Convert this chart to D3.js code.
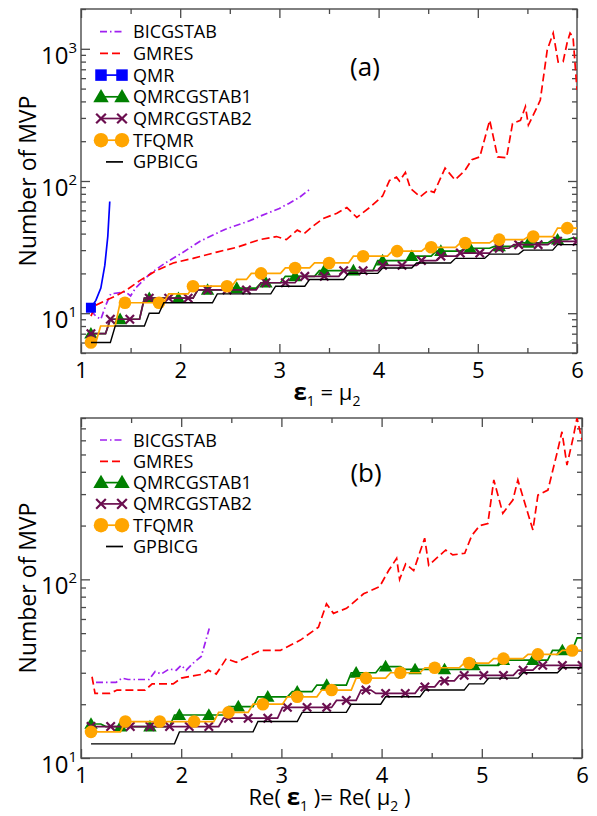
<!DOCTYPE html>
<html>
<head>
<meta charset="utf-8">
<script src="https://cdn.jsdelivr.net/npm/d3@7"></script>
<style>
    body { margin: 0; background: #fff; }
    svg { font-family: "Open Sans", sans-serif; }
</style>
</head>
<body>
<script>
// Sampling of the stepped solvers (same x grid in both panels)
var gridStart = 1.1;
var gridStep = 0.049;
var gridCount = 101;

// Axis ticks
var xTicks = [1, 2, 3, 4, 5, 6];
var xMinorTicks = [1.5, 2.5, 3.5, 4.5, 5.5];
var yDomainA = [5, 2000];
var yDomainB = [10, 800];
var yLabelsA = [10, 100, 1000];
var yLabelsB = [10, 100];

// Panel (a): eps1 = mu2, [x, MVP]
var bicgstabA = [[1.1, 10.5], [1.15, 9.5], [1.2, 9], [1.25, 11.5], [1.3, 14], [1.45, 14.5], [1.5, 13.5],
    [1.55, 15.5], [1.7, 20], [1.85, 24], [2.0, 28], [2.2, 35], [2.45, 43], [2.7, 50], [2.8, 54],
    [3.0, 62], [3.1, 68], [3.2, 75], [3.31, 87]];
var gmresA = [[1.1, 9.5], [1.15, 11.5], [1.25, 12.5], [1.35, 13.5], [1.46, 15], [1.6, 17.8], [1.76, 21],
    [1.93, 24], [2.13, 26], [2.37, 29], [2.57, 31.5], [2.8, 36], [2.97, 38], [3.07, 36], [3.18, 42.5],
    [3.25, 40], [3.33, 45], [3.44, 52], [3.58, 57], [3.68, 63], [3.78, 53], [3.91, 63], [4.04, 77],
    [4.11, 101], [4.18, 107], [4.21, 100], [4.27, 116], [4.32, 88], [4.42, 76], [4.5, 85], [4.56, 82],
    [4.67, 125], [4.77, 102], [4.87, 120], [4.94, 145], [5.02, 152], [5.12, 288], [5.2, 152],
    [5.29, 150], [5.35, 272], [5.43, 288], [5.48, 365], [5.51, 265], [5.6, 365], [5.63, 410],
    [5.7, 980], [5.76, 1316], [5.81, 794], [5.86, 800], [5.9, 1107], [5.93, 1316], [5.96, 1230],
    [6.0, 488]];
var qmrA = [[1.1, 11], [1.15, 12.5], [1.2, 15.5], [1.24, 23], [1.27, 38], [1.29, 70]];
// stepped solvers as [x where a level starts, MVP]
var qmrcg1A = [[1.1, 7], [1.25, 9], [1.6, 13], [2.15, 15], [2.5, 15.5], [2.8, 17], [3.05, 19], [3.4, 21],
    [3.95, 25], [4.3, 27], [4.55, 29.5], [4.85, 31], [5.15, 32], [5.4, 34], [5.75, 36], [5.95, 37]];
var qmrcg2A = [[1.1, 7], [1.25, 9], [1.6, 13], [2.15, 15], [2.8, 17], [3.2, 19], [3.6, 21], [4.0, 23],
    [4.4, 25], [4.6, 27], [4.8, 28.5], [5.15, 31], [5.35, 33], [5.75, 35]];
var tfqmrA = [[1.1, 6], [1.15, 8], [1.35, 12], [1.85, 14], [2.1, 16], [2.55, 18], [2.7, 20], [3.05, 22],
    [3.35, 24], [3.7, 27], [4.1, 29.5], [4.45, 31.5], [4.8, 34], [5.15, 36], [5.5, 38], [5.8, 44]];
var gpbicgA = [[1.1, 6], [1.3, 8], [1.65, 10], [1.8, 12], [2.35, 14], [2.95, 16], [3.3, 18], [3.65, 20],
    [4.0, 22], [4.35, 24], [4.75, 26], [5.1, 28], [5.45, 30], [5.8, 33]];

// Panel (b): Re(eps1) = Re(mu2)
var bicgstabB = [[1.15, 26.5], [1.35, 26.5], [1.41, 28], [1.47, 27.5], [1.68, 27.5], [1.74, 30.5],
    [1.8, 29.5], [1.88, 31.5], [1.95, 31], [2.0, 33], [2.05, 31], [2.12, 34], [2.2, 37], [2.28, 53]];
var gmresB = [[1.11, 28.5], [1.14, 23], [1.29, 23], [1.36, 24], [1.64, 24], [1.71, 26], [1.92, 26],
    [2.0, 28], [2.22, 29.5], [2.27, 31], [2.35, 29.5], [2.45, 36], [2.55, 34.3], [2.79, 40], [2.99, 40],
    [3.19, 45.7], [3.37, 54], [3.45, 73], [3.52, 64.5], [3.65, 68.8], [3.82, 83], [3.98, 91],
    [4.07, 112], [4.15, 131], [4.18, 100], [4.24, 122], [4.32, 112], [4.43, 170], [4.47, 120],
    [4.64, 146], [4.71, 137], [4.83, 140], [4.9, 176], [4.98, 200], [5.06, 205], [5.12, 360],
    [5.21, 234], [5.31, 278], [5.36, 360], [5.51, 189], [5.56, 296], [5.66, 316], [5.75, 507],
    [5.8, 670], [5.85, 436], [5.91, 615], [5.95, 800], [6.0, 603]];
var qmrcg1B = [[1.1, 15.5], [1.2, 15], [1.9, 17.4], [2.45, 19.4], [2.75, 22], [3.1, 23.5], [3.35, 25.6],
    [3.65, 30], [3.95, 32.5], [4.2, 31.3], [4.9, 33], [5.2, 35.3], [5.7, 40], [5.95, 47]];
var qmrcg2B = [[1.1, 15], [2.4, 16.7], [3.0, 19.2], [3.55, 21], [3.78, 24], [3.92, 23], [4.35, 25],
    [4.55, 27], [4.75, 29], [5.35, 31], [5.55, 33]];
var tfqmrB = [[1.1, 14], [1.4, 16], [2.35, 18], [2.7, 20], [3.05, 22], [3.4, 24], [3.7, 28], [4.05, 30],
    [4.4, 32], [4.8, 34], [5.1, 36], [5.45, 38], [5.8, 40]];
var gpbicgB = [[1.1, 12], [1.97, 14], [2.75, 16], [3.2, 18], [3.66, 20], [4.01, 22], [4.41, 24],
    [4.84, 26], [5.04, 28], [5.38, 30], [5.76, 32]];

var svgWidth = 597;
var svgHeight = 816;
var frameColor = "#4a4a4a";

const svg = d3.select("body").append("svg")
    .attr("width", svgWidth)
    .attr("height", svgHeight);

function stepSeries(levels) {
    /*
     * Expands [start, level] pairs onto the sampling grid
     */
    return d3.range(gridCount).map(function(i) {
        var x = gridStart + gridStep * i;
        var y = levels[0][1];
        levels.forEach(function(l) {
            if (l[0] <= x + 1e-9) y = l[1];
        });
        return [x, y];
    });
}

// Line styles shared by both panels
var styles = {
    BICGSTAB:   {color: "#a020f0", dash: "7,3,1.5,3"},
    GMRES:      {color: "#ff0000", dash: "8,4"},
    QMR:        {color: "#0000ff", marker: "square"},
    QMRCGSTAB1: {color: "#008000", marker: "triangle"},
    QMRCGSTAB2: {color: "#6b0e4f", marker: "cross"},
    TFQMR:      {color: "#ffa500", marker: "circle"},
    GPBICG:     {color: "#000000"}
};

function drawMarker(g, type, color, x, y, big) {
    var s = big ? 1.15 : 1;
    if (type === "circle") {
        g.append("circle").attr("cx", x).attr("cy", y).attr("r", 6.3 * s).attr("fill", color);
    } else if (type === "triangle") {
        g.append("path")
            .attr("d", d3.symbol().type(d3.symbolTriangle).size(78 * s * s)())
            .attr("transform", `translate(${x}, ${y + 1})`)
            .attr("fill", color);
    } else if (type === "square") {
        g.append("rect").attr("x", x - 5 * s).attr("y", y - 5 * s)
            .attr("width", 10 * s).attr("height", 10 * s).attr("fill", color);
    } else if (type === "cross") {
        var r = 4.2 * s;
        g.append("path")
            .attr("d", `M${x - r},${y - r}L${x + r},${y + r}M${x - r},${y + r}L${x + r},${y - r}`)
            .attr("stroke", color).attr("stroke-width", 2.2).attr("fill", "none");
    }
}

function drawPanel(p) {
    var x = d3.scaleLinear().domain([1, 6]).range([p.left, p.right]);
    var y = d3.scaleLog().domain(p.yDomain).range([p.bottom, p.top]);
    var w = p.right - p.left;
    var h = p.bottom - p.top;

    var clipId = "clip" + p.id;
    svg.append("clipPath").attr("id", clipId)
        .append("rect").attr("x", p.left).attr("y", p.top).attr("width", w).attr("height", h);

    // Tick marks pointing into the frame on all four sides
    var majorY = p.yLabels;
    var minorY = y.ticks().filter(function(t) { return majorY.indexOf(t) < 0; });

    function tickGroup(axis, tx, ty) {
        var g = svg.append("g").attr("transform", `translate(${tx}, ${ty})`).call(axis);
        g.select(".domain").remove();
        g.selectAll("line").attr("stroke", frameColor).attr("stroke-width", 1.3);
        return g;
    }

    var bottom = tickGroup(d3.axisBottom(x).tickValues(xTicks).tickSizeInner(-9).tickSizeOuter(0)
        .tickPadding(9).tickFormat(d3.format("d")), 0, p.bottom);
    bottom.selectAll("text")
        .attr("font-size", 22)
        .attr("fill", "#000")
        .style("font-family", "'Open Sans', sans-serif");
    tickGroup(d3.axisBottom(x).tickValues(xMinorTicks).tickSize(-5).tickFormat(""), 0, p.bottom);
    tickGroup(d3.axisTop(x).tickValues(xTicks).tickSize(-9).tickFormat(""), 0, p.top);
    tickGroup(d3.axisTop(x).tickValues(xMinorTicks).tickSize(-5).tickFormat(""), 0, p.top);
    tickGroup(d3.axisLeft(y).tickValues(majorY).tickSize(-9).tickFormat(""), p.left, 0);
    tickGroup(d3.axisLeft(y).tickValues(minorY).tickSize(-5).tickFormat(""), p.left, 0);
    tickGroup(d3.axisRight(y).tickValues(majorY).tickSize(-9).tickFormat(""), p.right, 0);
    tickGroup(d3.axisRight(y).tickValues(minorY).tickSize(-5).tickFormat(""), p.right, 0);

    // Decade labels with superscript exponent
    majorY.forEach(function(v) {
        var t = svg.append("text")
            .attr("x", p.left - 4)
            .attr("y", y(v) + 15)
            .attr("text-anchor", "end")
            .attr("font-size", 24);
        t.append("tspan").text("10");
        t.append("tspan").attr("dy", -11).attr("font-size", 15).text(Math.round(Math.log10(v)));
    });

    // Frame
    svg.append("rect")
        .attr("x", p.left).attr("y", p.top).attr("width", w).attr("height", h)
        .attr("fill", "none").attr("stroke", frameColor).attr("stroke-width", 1.4);

    // Curves
    var plot = svg.append("g").attr("clip-path", `url(#${clipId})`);
    var line = d3.line().x(function(d) { return x(d[0]); }).y(function(d) { return y(d[1]); });

    p.series.forEach(function(s) {
        var st = styles[s.name];
        plot.append("path")
            .datum(s.data)
            .attr("d", line)
            .attr("fill", "none")
            .attr("stroke", st.color)
            .attr("stroke-width", s.name === "GPBICG" ? 1.4 : 1.7)
            .attr("stroke-dasharray", st.dash || null);
        if (st.marker) {
            s.data.filter(function(d, i) { return i % s.skip === 0; }).forEach(function(d) {
                drawMarker(plot, st.marker, st.color, x(d[0]), y(d[1]), false);
            });
        }
    });

    // Legend
    p.series.forEach(function(s, i) {
        var st = styles[s.name];
        var cy = p.legendY + i * p.legendStep;
        if (st.marker) {
            svg.append("line").attr("x1", 101).attr("x2", 122).attr("y1", cy).attr("y2", cy)
                .attr("stroke", st.color).attr("stroke-width", 1.7);
            drawMarker(svg, st.marker, st.color, 101, cy, true);
            drawMarker(svg, st.marker, st.color, 122, cy, true);
        } else {
            var x1 = s.name === "GPBICG" ? 106 : 100;
            svg.append("line").attr("x1", x1).attr("x2", 123).attr("y1", cy).attr("y2", cy)
                .attr("stroke", st.color).attr("stroke-width", 1.7)
                .attr("stroke-dasharray", st.dash || null);
        }
        svg.append("text")
            .attr("x", 133)
            .attr("y", cy + 6.5)
            .attr("font-size", 18)
            .text(s.name);
    });

    // Panel letter
    svg.append("text")
        .attr("x", p.letterX).attr("y", p.letterY)
        .attr("text-anchor", "middle")
        .attr("font-size", 26)
        .text(p.letter);

    // Y label
    svg.append("text")
        .attr("transform", `translate(36, ${(p.top + p.bottom) / 2}) rotate(-90)`)
        .attr("text-anchor", "middle")
        .attr("font-size", 23)
        .text("Number of MVP");

    // X label built from plain, bold and subscript parts
    var xl = svg.append("text")
        .attr("x", (p.left + p.right) / 2 - 2)
        .attr("y", p.bottom + 47)
        .attr("text-anchor", "middle")
        .attr("font-size", 22);
    p.xLabel.forEach(function(part) {
        var ts = xl.append("tspan").text(part.t);
        if (part.bold) ts.attr("font-weight", "bold").attr("font-size", 24);
        if (part.sub) ts.attr("font-size", 14).attr("dy", 6);
        if (part.up) ts.attr("dy", -6);
    });
}

drawPanel({
    id: "a", left: 81, right: 577, top: 9, bottom: 353,
    yDomain: yDomainA, yLabels: yLabelsA,
    letter: "(a)", letterX: 365, letterY: 76,
    legendY: 31.7, legendStep: 21.7,
    xLabel: [{t: "ε", bold: true}, {t: "1", sub: true}, {t: " = μ", up: true}, {t: "2", sub: true}],
    series: [
        {name: "BICGSTAB", data: bicgstabA},
        {name: "GMRES", data: gmresA},
        {name: "QMR", data: qmrA, skip: 100},
        {name: "QMRCGSTAB1", data: stepSeries(qmrcg1A), skip: 6},
        {name: "QMRCGSTAB2", data: stepSeries(qmrcg2A), skip: 4},
        {name: "TFQMR", data: stepSeries(tfqmrA), skip: 7},
        {name: "GPBICG", data: stepSeries(gpbicgA)}
    ]
});

drawPanel({
    id: "b", left: 81, right: 582, top: 418, bottom: 758,
    yDomain: yDomainB, yLabels: yLabelsB,
    letter: "(b)", letterX: 366, letterY: 482,
    legendY: 440, legendStep: 21.3,
    xLabel: [{t: "Re( "}, {t: "ε", bold: true}, {t: "1", sub: true}, {t: " )= Re( μ", up: true},
        {t: "2", sub: true}, {t: " )", up: true}],
    series: [
        {name: "BICGSTAB", data: bicgstabB},
        {name: "GMRES", data: gmresB},
        {name: "QMRCGSTAB1", data: stepSeries(qmrcg1B), skip: 6},
        {name: "QMRCGSTAB2", data: stepSeries(qmrcg2B), skip: 4},
        {name: "TFQMR", data: stepSeries(tfqmrB), skip: 7},
        {name: "GPBICG", data: stepSeries(gpbicgB)}
    ]
});
</script>
</body>
</html>
